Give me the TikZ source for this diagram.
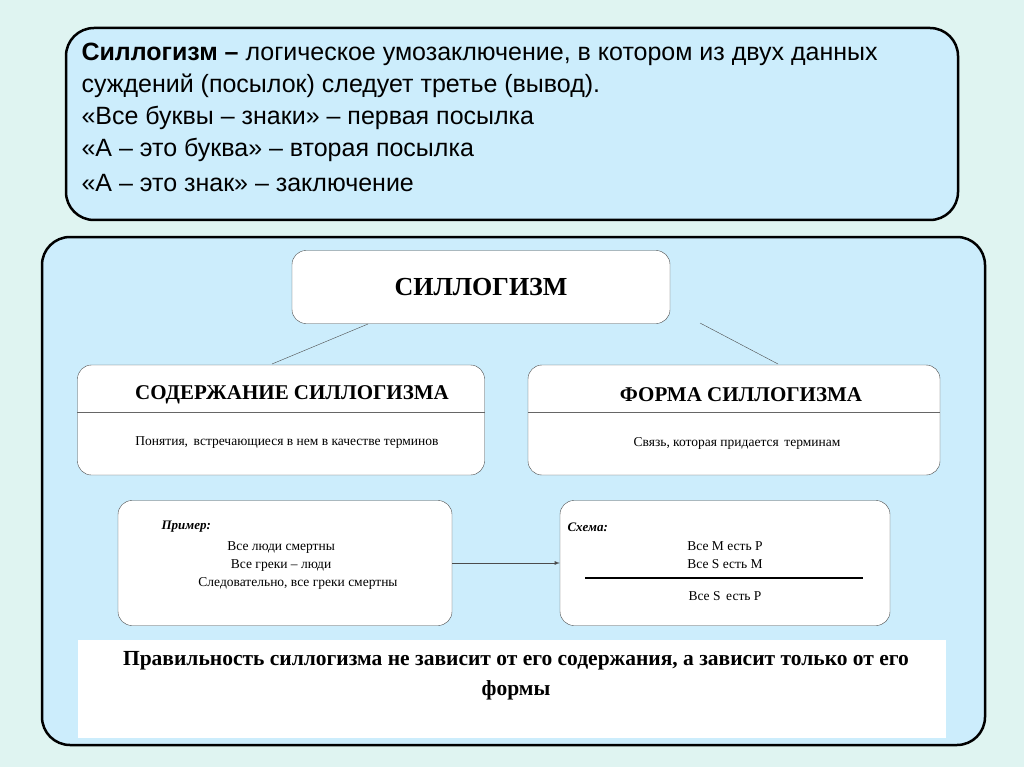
\documentclass[tikz,border=0pt]{standalone}
\usepackage{fontspec}
\setmainfont{Liberation Serif}
\newfontfamily\arial{Liberation Sans}
\usetikzlibrary{positioning}
\definecolor{bgteal}{HTML}{DFF4F1}
\definecolor{panel}{HTML}{CCEDFC}
\tikzset{
  panelbox/.style={draw=black, line width=2.5pt, fill=panel, rounded corners=28pt},
  whitebox/.style={draw=black!70, thin, fill=white, rounded corners=14pt},
  head/.style={font=\bfseries\fontsize{21}{24}\selectfont},
  small/.style={font=\fontsize{13.5}{18}\selectfont, align=center}
}
\begin{document}
\begin{tikzpicture}[x=1pt,y=-1pt]
\useasboundingbox[fill=bgteal] (0,0) rectangle (1024,767);

% upper panel with definition
\draw[panelbox] (66,28) rectangle (958,220);
\node[anchor=north west, align=left, font=\arial\fontsize{25}{32}\selectfont] (def) at (78,40)
  {\textbf{Силлогизм –} логическое умозаключение, в котором из двух данных\\
   суждений (посылок) следует третье (вывод).\\
   «Все буквы – знаки» – первая посылка\\
   «А – это буква» – вторая посылка\\[3pt]
   «А – это знак» – заключение};

% lower panel
\draw[panelbox] (42,237) rectangle (985,745);

\node[whitebox, minimum width=378pt, minimum height=73pt, font=\bfseries\fontsize{26}{30}\selectfont] (syl) at (481,287) {СИЛЛОГИЗМ};

\node[whitebox, minimum width=407pt, minimum height=110pt] (cont) at (281,420) {};
\node[whitebox, minimum width=412pt, minimum height=110pt] (form) at (734,420) {};
\draw[black!60] (cont.west |- 0,412) -- (cont.east |- 0,412);
\draw[black!60] (form.west |- 0,412) -- (form.east |- 0,412);
\node[head] (conth) at (292,395) {СОДЕРЖАНИЕ СИЛЛОГИЗМА};
\node[head] (formh) at (741,395) {ФОРМА СИЛЛОГИЗМА};
\node[small] (contt) at (287,443) {Понятия,\, встречающиеся в нем в качестве терминов};
\node[small] (formt) at (737,443) {Связь, которая придается\, терминам};

\draw[black!70] (368,324) -- (272,364);
\draw[black!70] (700,323) -- (778,364);

% example and scheme
\node[whitebox, minimum width=334pt, minimum height=125pt] (ex) at (285,563) {};
\node[whitebox, minimum width=330pt, minimum height=125pt] (sch) at (725,563) {};
\node[anchor=west, font=\bfseries\itshape\fontsize{13}{15}\selectfont] (exh) at (158,527) {Пример:};
\node[small, anchor=north] (ext) at (298,538) {\hspace*{-2.5em}Все люди смертны\\ \hspace*{-2.5em}Все греки – люди\\ Следовательно, все греки смертны};
\node[anchor=west, font=\bfseries\itshape\fontsize{13}{15}\selectfont] (schh) at (564,527) {Схема:};
\node[small, anchor=north] (scht) at (725,538) {Все M есть P\\ Все S есть M};
\node[small] (schc) at (725,596) {Все S\, есть P};
\draw[line width=1.2pt] (585,578) -- (863,578);
\draw[-latex, black!70, line width=0.8pt] (ex.east) -- (sch.west);

% conclusion strip
\fill[white] (78,640) rectangle (946,738);
\node[align=center, font=\bfseries\fontsize{21.5}{30}\selectfont] (rule) at (516,676)
  {Правильность силлогизма не зависит от его содержания, а зависит только от его\\ формы};
\end{tikzpicture}
\end{document}
